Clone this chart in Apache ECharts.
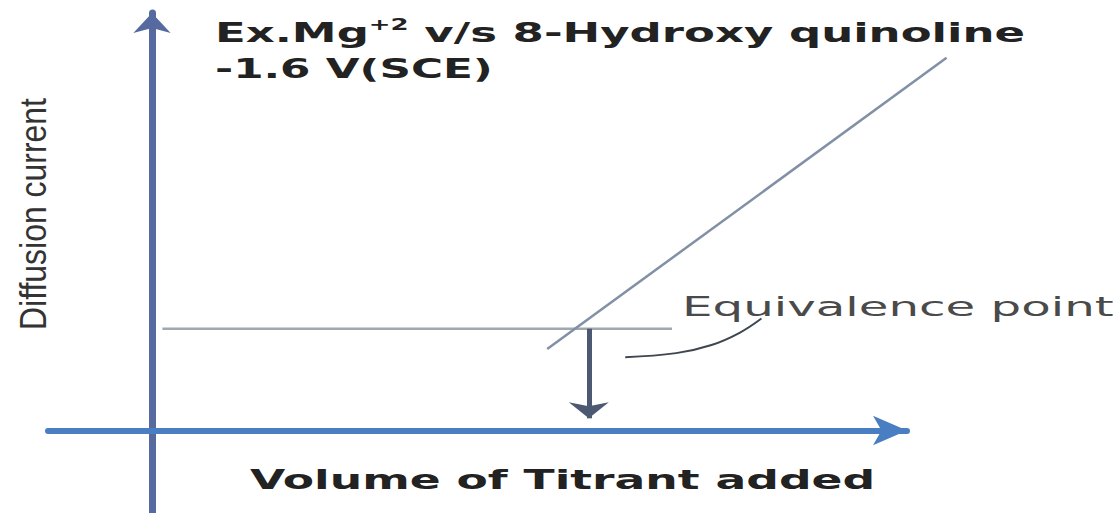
<!DOCTYPE html>
<html>
<head>
<meta charset="utf-8">
<script src="https://cdn.jsdelivr.net/npm/echarts@6/dist/echarts.min.js"></script>
<style>
  html, body { margin: 0; padding: 0; background: #fff; }
  #chart { width: 1118px; height: 513px; }
</style>
</head>
<body>
<div id="chart"></div>
<script>
// current before the equivalence point (flat)
var plateauX = [0.1, 5.0];
var plateauY = [1.0, 1.0];
// current after the equivalence point (rising)
var risingX = [3.8, 7.64];
var risingY = [0.8, 3.66];
// equivalence point and the arrow down to the volume axis
var equivX = 4.2;
var equivY = 1.0;
var arrowEndY = 0.12;
// curved leader from the label
var leaderX = [4.55, 5.04, 5.38, 5.65, 5.86];
var leaderY = [0.72, 0.76, 0.84, 0.96, 1.1];

var titleLine1 = ['Ex.Mg', '+2', ' v/s 8-Hydroxy quinoline'];
var titleLine2 = '-1.6 V(SCE)';
var xName = 'Volume of Titrant added';
var yName = 'Diffusion current';
var pointLabel = 'Equivalence point';

function zip(xs, ys) {
  return xs.map(function (x, i) { return [x, ys[i]]; });
}

// the picture is stretched sideways, so texts are fitted to a width
var ctx = document.createElement('canvas').getContext('2d');
function textWidth(str, font) {
  ctx.font = font;
  return ctx.measureText(str).width;
}

var fMain = 'bold 26px "DejaVu Sans"';
var fSup = 'bold 15px "DejaVu Sans"';
var w1 = textWidth(titleLine1[0], fMain) + textWidth(titleLine1[1], fSup) + textWidth(titleLine1[2], fMain);
var w2 = textWidth(titleLine2, fMain);
var wX = textWidth(xName, 'bold 27px "DejaVu Sans"');
var wP = textWidth(pointLabel, '27px "DejaVu Sans"');
var wY = textWidth(yName, '22px "Liberation Sans"');

var hidden = {
  axisLine: { show: false },
  axisTick: { show: false },
  axisLabel: { show: false },
  splitLine: { show: false }
};

var myChart = echarts.init(document.getElementById('chart'), null, { renderer: 'svg' });

var option = {
  animation: false,
  grid: [
    // axes with arrows
    { left: 48, right: 211, top: 13, bottom: 1 },
    // same scale, wider, so the rising line can run past the arrow
    { left: 48, right: 30, top: 13, bottom: 1 }
  ],
  xAxis: [
    {
      type: 'value', gridIndex: 0, min: -1, max: 7.26,
      axisLine: {
        onZero: true,
        symbol: ['none', 'arrow'],
        symbolSize: [22, 34],
        lineStyle: { color: '#4a7ec2', width: 6 }
      },
      axisTick: { show: false },
      axisLabel: { show: false },
      splitLine: { show: false }
    },
    Object.assign({ type: 'value', gridIndex: 1, min: -1, max: 9 }, hidden)
  ],
  yAxis: [
    {
      type: 'value', gridIndex: 0, min: -0.8, max: 4.1,
      axisLine: {
        onZero: true,
        symbol: ['none', 'arrow'],
        symbolSize: [28, 20],
        lineStyle: { color: '#566a9f', width: 7 }
      },
      axisTick: { show: false },
      axisLabel: { show: false },
      splitLine: { show: false }
    },
    Object.assign({ type: 'value', gridIndex: 1, min: -0.8, max: 4.1 }, hidden)
  ],
  series: [
    {
      type: 'line',
      xAxisIndex: 1, yAxisIndex: 1,
      data: zip(plateauX, plateauY),
      symbol: 'none',
      silent: true,
      lineStyle: { color: '#a2a7ad', width: 2.5 },
      markLine: {
        silent: true,
        symbol: ['none', 'arrow'],
        symbolSize: [30, 16],
        label: { show: false },
        lineStyle: { color: '#4b5a72', width: 5, type: 'solid' },
        data: [[{ coord: [equivX, equivY] }, { coord: [equivX, arrowEndY] }]]
      }
    },
    {
      type: 'line',
      xAxisIndex: 1, yAxisIndex: 1,
      data: zip(risingX, risingY),
      symbol: 'none',
      silent: true,
      lineStyle: { color: '#8290a6', width: 2.5 }
    },
    {
      type: 'line',
      xAxisIndex: 1, yAxisIndex: 1,
      data: zip(leaderX, leaderY),
      symbol: 'none',
      smooth: 0.4,
      silent: true,
      lineStyle: { color: '#3e4650', width: 2 }
    }
  ],
  graphic: [
    {
      type: 'text',
      x: 215, y: 33,
      scaleX: 810 / w1,
      style: {
        text: '{m|' + titleLine1[0] + '}{s|' + titleLine1[1] + '}{m|' + titleLine1[2] + '}',
        align: 'left',
        verticalAlign: 'middle',
        rich: {
          m: { fontSize: 26, fontWeight: 'bold', fontFamily: 'DejaVu Sans', fill: '#222', lineHeight: 32 },
          s: { fontSize: 15, fontWeight: 'bold', fontFamily: 'DejaVu Sans', fill: '#222', lineHeight: 18, verticalAlign: 'top' }
        }
      }
    },
    {
      type: 'text',
      x: 215, y: 69,
      scaleX: 278 / w2,
      style: {
        text: titleLine2,
        fontSize: 26, fontWeight: 'bold', fontFamily: 'DejaVu Sans',
        fill: '#222', align: 'left', verticalAlign: 'middle'
      }
    },
    {
      type: 'text',
      x: 250, y: 480,
      scaleX: 625 / wX,
      style: {
        text: xName,
        fontSize: 27, fontWeight: 'bold', fontFamily: 'DejaVu Sans',
        fill: '#222', align: 'left', verticalAlign: 'middle'
      }
    },
    {
      type: 'text',
      x: 682, y: 307,
      scaleX: 432 / wP,
      style: {
        text: pointLabel,
        fontSize: 27, fontFamily: 'DejaVu Sans',
        fill: '#4a4a4a', align: 'left', verticalAlign: 'middle'
      }
    },
    {
      type: 'text',
      x: 33, y: 214,
      rotation: Math.PI / 2,
      scaleX: 232 / wY,
      scaleY: 1.7,
      style: {
        text: yName,
        fontSize: 22, fontFamily: 'Liberation Sans',
        fill: '#333', align: 'center', verticalAlign: 'middle'
      }
    }
  ]
};

myChart.setOption(option);
</script>
</body>
</html>
